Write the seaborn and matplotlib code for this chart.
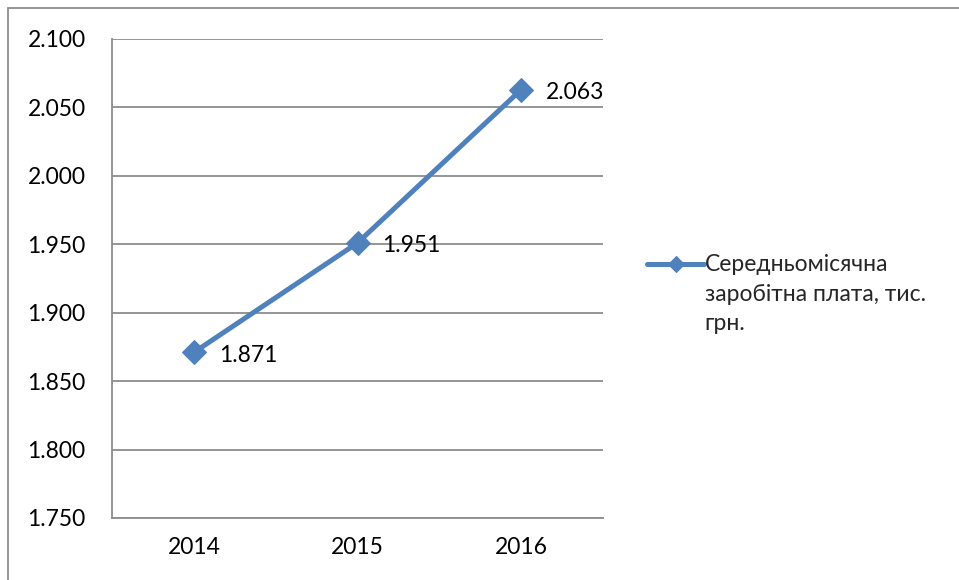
import matplotlib
matplotlib.use("Agg")
import matplotlib.pyplot as plt
import seaborn as sns
import pandas as pd
from matplotlib.patches import Rectangle

years = ["2014", "2015", "2016"]
salary = [1.871, 1.951, 2.063]
series_label = "Середньомісячна\nзаробітна плата, тис.\nгрн."
yticks = [1.750, 1.800, 1.850, 1.900, 1.950, 2.000, 2.050, 2.100]

sns.set_theme(style="white")
plt.rcParams['font.family'] = ['Lato', 'DejaVu Sans']

df = pd.DataFrame({"year": years, "value": salary})

fig = plt.figure(figsize=(9.59, 5.80), dpi=100)
ax = fig.add_axes([112/959, 1-518/580, (603-112)/959, (518-39)/580])

line_color = "#4F81BD"
sns.lineplot(data=df, x="year", y="value", ax=ax, color=line_color, linewidth=3.6,
             marker="D", markersize=12.5, markeredgecolor=line_color, label=series_label,
             sort=False)

ax.set_xlim(-0.5, 2.5)
ax.set_ylim(1.75, 2.10)
ax.set_yticks(yticks)
ax.set_yticklabels([f"{v:.3f}" for v in yticks])
ax.set_xlabel("")
ax.set_ylabel("")
ax.yaxis.grid(True, color="#8c8c8c", linewidth=1.3)
ax.xaxis.grid(False)
ax.set_axisbelow(True)
for s in ["top", "right"]:
    ax.spines[s].set_visible(False)
for s in ["left", "bottom"]:
    ax.spines[s].set_color("#8c8c8c")
    ax.spines[s].set_linewidth(1.3)
ax.tick_params(axis="both", length=0, labelsize=16.5, colors="black")
ax.tick_params(axis="y", pad=19)
ax.tick_params(axis="x", pad=14)

for i, v in enumerate(salary):
    ax.annotate(f"{v:.3f}", (i, v), xytext=(18, -2), textcoords="offset points",
                ha="left", va="center", fontsize=16.5, color="black")

leg = ax.legend(loc="upper left", bbox_to_anchor=(636/959, 1-243/580),
                bbox_transform=fig.transFigure, frameon=False, fontsize=16.5,
                handlelength=2.45, handleheight=1.0, handletextpad=0.05,
                borderpad=0, labelspacing=0)
for t in leg.get_texts():
    t.set_linespacing(1.5)
for h in leg.legend_handles:
    h.set_markersize(8.5)
for col in leg._legend_handle_box.get_children():
    for row in col.get_children():
        row.align = "top"

fig.patches.append(Rectangle((8/959, -0.1), 1.2, 1-8/580+0.1, transform=fig.transFigure,
                             fill=False, edgecolor="#8c8c8c", linewidth=1.3))

fig.savefig("out.png", dpi=100)
